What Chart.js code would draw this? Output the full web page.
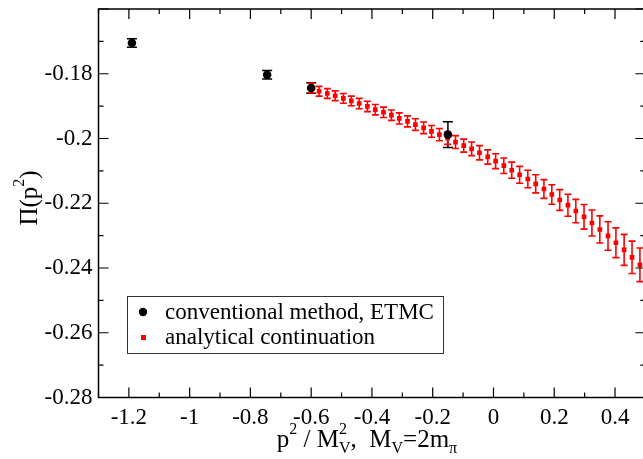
<!DOCTYPE html>
<html>
<head>
<meta charset="utf-8">
<script src="https://cdn.jsdelivr.net/npm/chart.js@4.4.1/dist/chart.umd.min.js"></script>
<style>
html,body{margin:0;padding:0;overflow:hidden;background:#fff;width:643px;height:459px;}
canvas{display:block;}
</style>
</head>
<body>
<canvas id="c" width="660" height="459"></canvas>
<script>
// conventional method, ETMC
const convX = [-1.19, -0.745, -0.6, -0.15];
const convY = [-0.1705, -0.1803, -0.1844, -0.1988];
const convErr = [0.0013, 0.0013, 0.0016, 0.0040];

// analytical continuation
const acX = [-0.600, -0.574, -0.547, -0.521, -0.494, -0.468, -0.442, -0.415, -0.389, -0.362,
             -0.336, -0.310, -0.283, -0.257, -0.230, -0.204, -0.178, -0.151, -0.125, -0.098,
             -0.072, -0.046, -0.019, 0.007, 0.034, 0.060, 0.086, 0.113, 0.139, 0.166,
             0.192, 0.218, 0.245, 0.271, 0.298, 0.324, 0.350, 0.377, 0.403, 0.430,
             0.456, 0.482];
const acY = [-0.1844, -0.1854, -0.1861, -0.1868, -0.1876, -0.1884, -0.1892, -0.1901, -0.1911, -0.1919,
             -0.1928, -0.1938, -0.1947, -0.1957, -0.1967, -0.1978, -0.1988, -0.1999, -0.2011, -0.2022,
             -0.2032, -0.2044, -0.2057, -0.2070, -0.2084, -0.2098, -0.2112, -0.2125, -0.2140, -0.2156,
             -0.2173, -0.2190, -0.2206, -0.2224, -0.2242, -0.2261, -0.2281, -0.2301, -0.2322, -0.2344,
             -0.2367, -0.2390];
const acErr = [0.0015, 0.0015, 0.0015, 0.0015, 0.0015, 0.0015, 0.0016, 0.0016, 0.0016, 0.0016,
               0.0016, 0.0017, 0.0017, 0.0018, 0.0018, 0.0018, 0.0019, 0.0019, 0.0020, 0.0020,
               0.0021, 0.0022, 0.0022, 0.0023, 0.0024, 0.0025, 0.0026, 0.0027, 0.0028, 0.0029,
               0.0030, 0.0032, 0.0034, 0.0036, 0.0038, 0.0040, 0.0042, 0.0044, 0.0046, 0.0048,
               0.0050, 0.0052];

// tick labels
const xTickValues = [-1.2, -1, -0.8, -0.6, -0.4, -0.2, 0, 0.2, 0.4];
const yTickValues = [-0.28, -0.26, -0.24, -0.22, -0.2, -0.18];

const seriesNames = ['conventional method, ETMC', 'analytical continuation'];
const xTitleParts = ['p', '2', ' / M', 'V', '2', ',  M', 'V', '=2m', 'π'];
const yTitleParts = ['Π(p', '2', ')'];

const xMin = -1.3, xMax = 0.5, xStep = 0.2, xMinor = 0.1;
const yMin = -0.28, yMax = -0.16, yStep = 0.02, yMinor = 0.01;

const FONT = '"Liberation Serif", "Times New Roman", serif';
const FS = 23;
const FT = 25;
const FSS = 16;

function fmt(v){ return String(Number(v.toFixed(3))); }

const errorBars = {
  id: 'errorBars',
  beforeDatasetsDraw(chart){
    const ctx = chart.ctx, xs = chart.scales.x, ys = chart.scales.y;
    chart.data.datasets.forEach((ds) => {
      ctx.save();
      ctx.strokeStyle = ds.errColor;
      ctx.lineWidth = ds.errWidth;
      ds.data.forEach((p) => {
        const px = xs.getPixelForValue(p.x);
        const y1 = ys.getPixelForValue(p.y + p.e);
        const y2 = ys.getPixelForValue(p.y - p.e);
        const c = ds.capHalf;
        ctx.beginPath();
        ctx.moveTo(px, y1); ctx.lineTo(px, y2);
        ctx.moveTo(px - c, y1); ctx.lineTo(px + c, y1);
        ctx.moveTo(px - c, y2); ctx.lineTo(px + c, y2);
        ctx.stroke();
      });
      ctx.restore();
    });
  }
};

function ticksList(min, max, step){
  const out = [];
  const n = Math.round((max - min) / step);
  for (let i = 0; i <= n; i++) out.push(min + i * step);
  return out;
}

const frame = {
  id: 'frame',
  afterDraw(chart){
    const ctx = chart.ctx, a = chart.chartArea, xs = chart.scales.x, ys = chart.scales.y;
    ctx.save();
    ctx.strokeStyle = '#000';
    ctx.lineWidth = 1.5;
    ctx.strokeRect(a.left, a.top, a.right - a.left, a.bottom - a.top);
    ctx.lineWidth = 1.2;
    ctx.beginPath();
    ticksList(xMin, xMax, xMinor).forEach((v) => {
      const major = Math.abs((v / xStep) - Math.round(v / xStep)) < 1e-6;
      const L = major ? 10 : 5;
      const px = xs.getPixelForValue(v);
      ctx.moveTo(px, a.bottom); ctx.lineTo(px, a.bottom - L);
      ctx.moveTo(px, a.top); ctx.lineTo(px, a.top + L);
    });
    ticksList(yMin, yMax, yMinor).forEach((v) => {
      const major = Math.abs((v / yStep) - Math.round(v / yStep)) < 1e-6;
      const L = major ? 10 : 5;
      const py = ys.getPixelForValue(v);
      ctx.moveTo(a.left, py); ctx.lineTo(a.left + L, py);
      ctx.moveTo(a.right, py); ctx.lineTo(a.right - L, py);
    });
    ctx.stroke();

    // legend
    const bx = 127, by = 296, bw = 316, bh = 57;
    ctx.lineWidth = 1;
    ctx.strokeStyle = '#333';
    ctx.strokeRect(bx + 0.5, by + 0.5, bw, bh);
    ctx.fillStyle = '#000';
    ctx.beginPath(); ctx.arc(143, 312, 4.2, 0, Math.PI * 2); ctx.fill();
    ctx.fillStyle = '#ff0000';
    ctx.fillRect(141, 335, 5, 5);
    ctx.fillStyle = '#000';
    ctx.font = FS + 'px ' + FONT;
    ctx.textBaseline = 'alphabetic';
    ctx.textAlign = 'left';
    ctx.fillText(seriesNames[0], 165, 319);
    ctx.fillText(seriesNames[1], 165, 344);

    // x title
    const big = FT + 'px ' + FONT, small = FSS + 'px ' + FONT;
    const parts = xTitleParts;
    const segs = [
      {t: parts[0], f: big, dy: 0},
      {t: parts[1], f: small, dy: -13},
      {t: parts[2], f: big, dy: 0},
      {t: parts[3], f: small, dy: 6, stack: {t: parts[4], dy: -13}},
      {t: parts[5], f: big, dy: 0},
      {t: parts[6], f: small, dy: 6},
      {t: parts[7], f: big, dy: 0},
      {t: parts[8], f: small, dy: 6}
    ];
    let total = 0;
    segs.forEach(s => { ctx.font = s.f; let w = ctx.measureText(s.t).width; if (s.stack) w = Math.max(w, ctx.measureText(s.stack.t).width); s.w = w; total += w; });
    let x = 367 - total / 2;
    const base = 447;
    segs.forEach(s => {
      ctx.font = s.f;
      ctx.fillText(s.t, x, base + s.dy);
      if (s.stack) ctx.fillText(s.stack.t, x, base + s.stack.dy);
      x += s.w;
    });

    // y title
    ctx.save();
    ctx.translate(37, 198);
    ctx.rotate(-Math.PI / 2);
    const ys2 = [
      {t: yTitleParts[0], f: big, dy: 0},
      {t: yTitleParts[1], f: small, dy: -13},
      {t: yTitleParts[2], f: big, dy: 0}
    ];
    let tw = 0;
    ys2.forEach(s => { ctx.font = s.f; s.w = ctx.measureText(s.t).width; tw += s.w; });
    let yx = -tw / 2;
    ys2.forEach(s => { ctx.font = s.f; ctx.fillText(s.t, yx, s.dy); yx += s.w; });
    ctx.restore();
    ctx.restore();
  }
};

const chart = new Chart(document.getElementById('c'), {
  type: 'scatter',
  data: {
    datasets: [
      {
        label: seriesNames[0],
        data: convX.map((x, i) => ({x: x, y: convY[i], e: convErr[i]})),
        pointStyle: 'circle', pointRadius: 4.3, backgroundColor: '#000', borderColor: '#000', borderWidth: 0,
        errColor: '#000', errWidth: 1.5, capHalf: 5
      },
      {
        label: seriesNames[1],
        data: acX.map((x, i) => ({x: x, y: acY[i], e: acErr[i]})),
        pointStyle: 'rect', pointRadius: 3.3, backgroundColor: '#ff0000', borderColor: '#ff0000', borderWidth: 0,
        errColor: '#ff0000', errWidth: 1.6, capHalf: 3.5
      }
    ]
  },
  options: {
    responsive: false,
    animation: false,
    devicePixelRatio: 1,
    layout: {padding: {top: 9, right: 14.6, left: 0, bottom: 0}},
    plugins: {legend: {display: false}, tooltip: {enabled: false}},
    scales: {
      x: {
        type: 'linear', min: xMin, max: xMax,
        grid: {display: false, drawTicks: false},
        border: {display: false},
        afterBuildTicks: (s) => { s.ticks = xTickValues.map(v => ({value: v})); },
        ticks: {color: '#000', padding: 7, autoSkip: false,
                font: {family: FONT, size: FS}, maxRotation: 0,
                callback: (v) => fmt(v)},
        afterFit: (s) => { s.height = 61.5; s.paddingLeft = 0; s.paddingRight = 0; }
      },
      y: {
        type: 'linear', min: yMin, max: yMax,
        grid: {display: false, drawTicks: false},
        border: {display: false},
        afterBuildTicks: (s) => { s.ticks = yTickValues.map(v => ({value: v})); },
        ticks: {color: '#000', padding: 6, autoSkip: false,
                font: {family: FONT, size: FS},
                callback: (v) => fmt(v)},
        afterFit: (s) => { s.width = 98.5; s.paddingTop = 0; s.paddingBottom = 0; }
      }
    }
  },
  plugins: [errorBars, frame]
});
</script>
</body>
</html>
